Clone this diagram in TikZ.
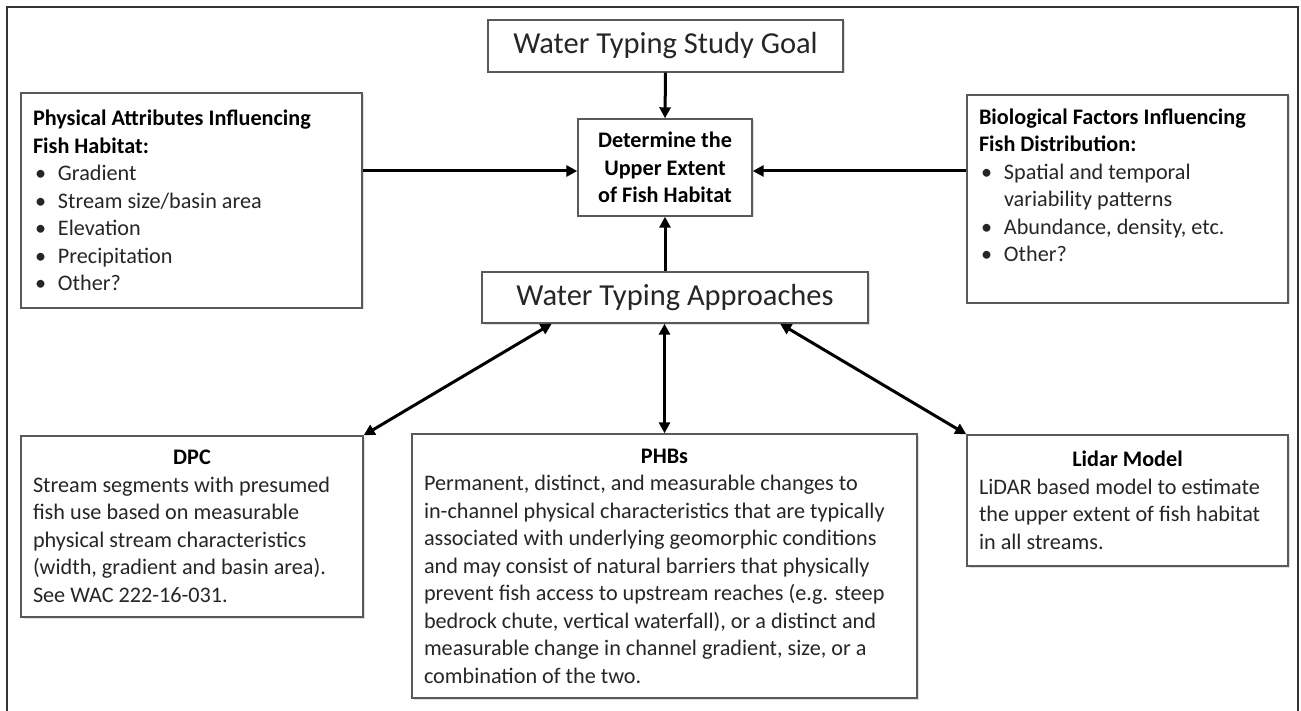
\documentclass[tikz,border=0pt]{standalone}
\usepackage{fontspec}
\setmainfont{Carlito}
\usepackage{tikz}
\usepackage{xcolor}
\tikzstyle{boxes} = [rectangle, draw=black!65, line width=1.4pt, fill=white, inner xsep=12pt,
inner ysep=3pt, text=black!85, font=\fontsize{22.2}{27.5}\selectfont,
drop shadow={shadow xshift=1.5pt, shadow yshift=-1.5pt, opacity=0.25}]
\tikzstyle{tboxes} = [boxes, font=\fontsize{30.5}{36}\selectfont, align=center]
\tikzstyle{arrow} = [line width=3pt, -{Triangle[length=11pt,width=11pt]}]
\tikzstyle{darrow} = [line width=3pt, {Triangle[length=11pt,width=11pt]}-{Triangle[length=11pt,width=11pt]}]
\usetikzlibrary{arrows.meta}
\usetikzlibrary{shadows}
\newcommand{\bul}{\makebox[25pt][l]{\hspace{2pt}•}}
\newcommand{\hd}[1]{\textbf{\color{black}#1}}
\newcommand{\ttl}[2]{\makebox[#1][c]{\hd{#2}}}

\begin{document}
\begin{tikzpicture}[x=1pt,y=-1pt]
        \useasboundingbox (0,0) rectangle (1301,711);
        \draw[line width=2pt, black!80] (7,711) -- (7,7) -- (1298,7) -- (1298,711);

        \draw (665.5,46) node[tboxes, minimum width=355pt, minimum height=52pt] (goal) {Water Typing Study Goal};
        \draw (665,167.5) node[boxes, align=center, minimum width=174pt, minimum height=97pt] (det)
        {\hd{Determine the}\\ \hd{Upper Extent}\\ \hd{of Fish Habitat}};

        \draw (191.5,200.5) node[boxes, align=flush left, text width=317pt, minimum height=215pt] (phys)
        {\hd{Physical Attributes Influencing}\\ \hd{Fish Habitat:}\\ \bul Gradient\\ \bul Stream size/basin area\\
        \bul Elevation\\ \bul Precipitation\\ \bul Other?};

        \draw (1127.5,199) node[boxes, align=flush left, text width=297pt, minimum height=208pt] (bio)
        {\hd{Biological Factors Influencing}\\ \hd{Fish Distribution:}\\ \bul Spatial and temporal\\
        \hspace*{25pt}variability patterns\\ \bul Abundance, density, etc.\\ \bul Other?\\ \mbox{}};

        \draw (675,297.5) node[tboxes, minimum width=386pt, minimum height=51pt] (appr) {Water Typing Approaches};

        \draw (192,526.5) node[boxes, align=flush left, text width=318pt, minimum height=181pt] (dpc)
        {\ttl{318pt}{DPC}\\ Stream segments with presumed\\ fish use based on measurable\\
        physical stream characteristics\\ (width, gradient and basin area).\\ See WAC 222-16-031.};

        \draw (664.5,566) node[boxes, align=flush left, text width=481pt, minimum height=264pt] (phb)
        {\ttl{481pt}{PHBs}\\ Permanent, distinct, and measurable changes to\\
        in-channel physical characteristics that are typically\\
        associated with underlying geomorphic conditions\\
        and may consist of natural barriers that physically\\
        prevent fish access to upstream reaches (e.g. steep\\
        bedrock chute, vertical waterfall), or a distinct and\\
        measurable change in channel gradient, size, or a\\
        combination of the two.};

        \draw (1127.5,500.5) node[boxes, align=flush left, text width=297pt, minimum height=131pt] (lidar)
        {\ttl{297pt}{Lidar Model}\\ LiDAR based model to estimate\\ the upper extent of fish habitat\\ in all streams.};

        % Arrows
        \draw[arrow] (goal.south) -- (det.north);
        \draw[arrow] (phys.east |- det.west) ++(0,3.5) -- ([yshift=-3.5pt]det.west);
        \draw[arrow] (bio.west |- det.east) ++(0,3.5) -- ([yshift=-3.5pt]det.east);
        \draw[arrow] (appr.north -| det.south) -- (det.south);

        \draw[darrow] (appr.192) -- (dpc.north east);
        \draw[darrow] (appr.south -| phb.north) -- (phb.north);
        \draw[darrow] (appr.-14) -- (lidar.north west);
    \end{tikzpicture}
\end{document}
